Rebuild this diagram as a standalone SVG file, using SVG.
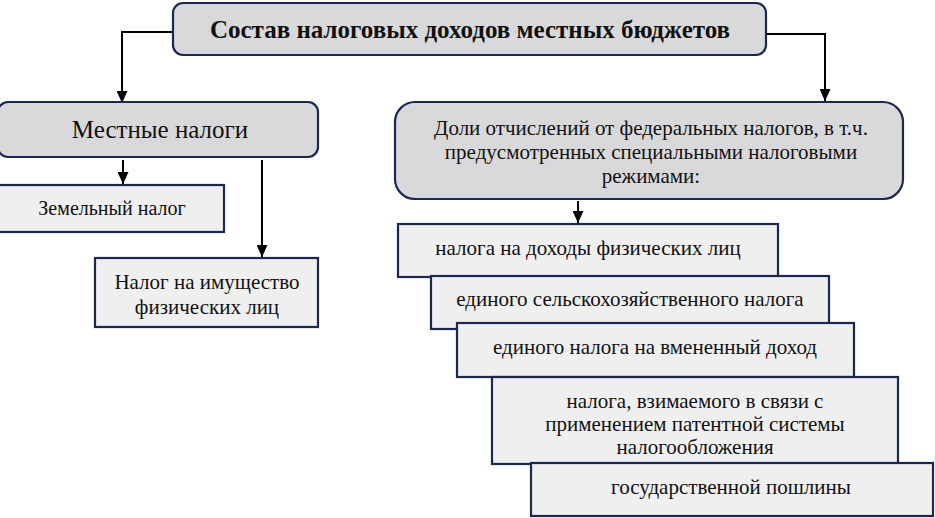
<svg xmlns="http://www.w3.org/2000/svg" width="935" height="518" viewBox="0 0 935 518">
<style>
.g{fill:#d9d9db;stroke:#1d2750;stroke-width:2.2}
.l{fill:#efeff0;stroke:#1d2750;stroke-width:2.2}
text{font-family:'Liberation Serif','DejaVu Serif','Times New Roman',serif;font-size:21px;fill:#111;text-anchor:middle}
.tb{font-weight:bold;font-size:25px}
.c{fill:none;stroke:#000;stroke-width:2}
</style>
<defs>
<marker id="a" viewBox="0 0 12 11" refX="12" refY="5.5" markerWidth="12" markerHeight="11" orient="auto" markerUnits="userSpaceOnUse"><path d="M0,0L12,5.5L0,11z" fill="#000"/></marker>
</defs>
<rect width="935" height="518" fill="#fff"/>
<g id="connectors">
<path class="c" d="M172,32H122V103" marker-end="url(#a)"/>
<path class="c" d="M766,34H825V101" marker-end="url(#a)"/>
<path class="c" d="M123,160V184" marker-end="url(#a)"/>
<path class="c" d="M262,160V257" marker-end="url(#a)"/>
<path class="c" d="M578,201V223" marker-end="url(#a)"/>
</g>
<g id="title">
<rect class="g" x="173" y="3" width="593" height="52" rx="10"/>
<text class="tb" x="470" y="38">Состав налоговых доходов местных бюджетов</text>
</g>
<g id="local">
<rect class="g" x="-2" y="102" width="320" height="55" rx="10"/>
<text style="font-size:25px" x="160" y="138">Местные налоги</text>
</g>
<g id="land">
<rect class="l" x="-2" y="185" width="226" height="47"/>
<text style="font-size:20px" x="112" y="215">Земельный налог</text>
</g>
<g id="property">
<rect class="l" x="95" y="258" width="223" height="69"/>
<text x="207" y="289">Налог на имущество</text>
<text x="207" y="314">физических лиц</text>
</g>
<g id="federal">
<rect class="g" x="395" y="102" width="508" height="97" rx="20"/>
<text x="651" y="135">Доли отчислений от федеральных налогов, в т.ч.</text>
<text x="651" y="159">предусмотренных специальными налоговыми</text>
<text x="651" y="183">режимами:</text>
</g>
<g id="ndfl">
<rect class="l" x="398" y="224" width="380" height="53"/>
<text x="588" y="255">налога на доходы физических лиц</text>
</g>
<g id="eshn">
<rect class="l" x="431" y="276" width="398" height="53"/>
<text x="630" y="306">единого сельскохозяйственного налога</text>
</g>
<g id="envd">
<rect class="l" x="457" y="323" width="397" height="54"/>
<text x="655" y="354">единого налога на вмененный доход</text>
</g>
<g id="patent">
<rect class="l" x="492" y="377" width="406" height="87"/>
<text x="695" y="408">налога, взимаемого в связи с</text>
<text x="695" y="431">применением патентной системы</text>
<text x="695" y="454">налогообложения</text>
</g>
<g id="duty">
<rect class="l" x="531" y="463" width="402" height="53"/>
<text x="731" y="494">государственной пошлины</text>
</g>
</svg>
